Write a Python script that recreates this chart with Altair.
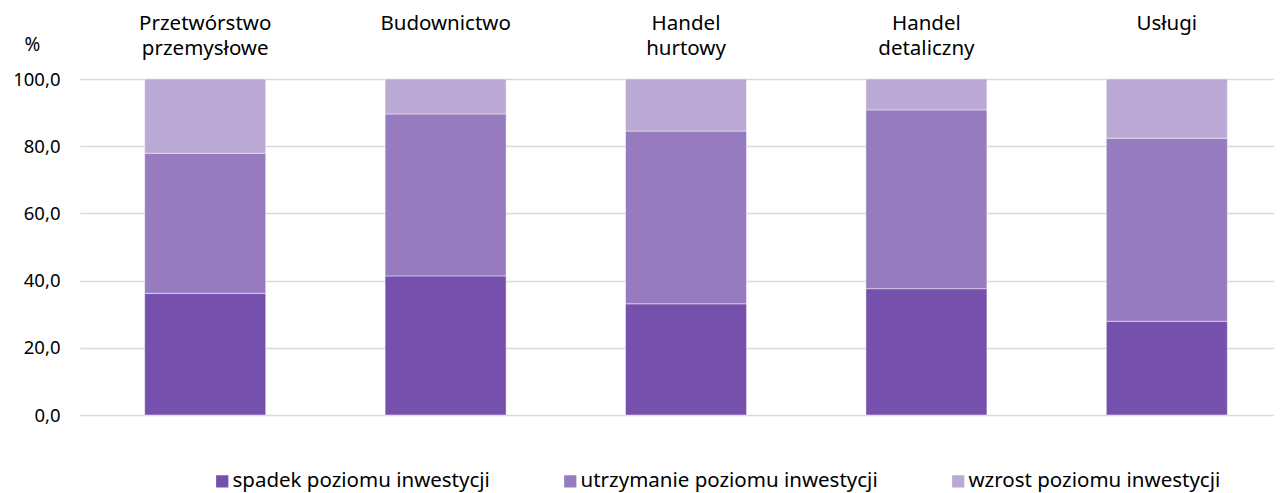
import altair as alt
import pandas as pd

categories = ["Przetwórstwo przemysłowe", "Budownictwo", "Handel hurtowy", "Handel detaliczny", "Usługi"]
cat_labels = ["Przetwórstwo\nprzemysłowe", "Budownictwo", "Handel\nhurtowy", "Handel\ndetaliczny", "Usługi"]
series = ["spadek poziomu inwestycji", "utrzymanie poziomu inwestycji", "wzrost poziomu inwestycji"]
spadek = [36.2, 41.4, 33.1, 37.6, 27.9]
utrzymanie = [41.7, 48.2, 51.4, 53.2, 54.5]
wzrost = [22.1, 10.4, 15.5, 9.2, 17.6]
colors = ["#7550AC", "#967CBE", "#BAA8D5"]
y_ticks = [0, 20, 40, 60, 80, 100]

FONT = "Noto Sans"

rows = []
for vals, s, o in zip([spadek, utrzymanie, wzrost], series, range(3)):
    for i, (c, v) in enumerate(zip(categories, vals)):
        rows.append({"idx": i, "kat": c, "seria": s, "wartosc": v, "ord": o})
df = pd.DataFrame(rows)
lab_df = pd.DataFrame({"idx": list(range(len(categories))), "label": cat_labels})

# category positions on a linear scale; the view is cropped on the right like the original
xscale = alt.Scale(domain=[-0.5, 4.425], nice=False, zero=False)

bars = alt.Chart(df).mark_bar(width=121, stroke="white", strokeWidth=1, strokeOpacity=0.45).encode(
    x=alt.X("idx:Q", scale=xscale, axis=None),
    y=alt.Y("wartosc:Q", stack="zero",
            scale=alt.Scale(domain=[0, 100], nice=False),
            axis=alt.Axis(values=y_ticks, grid=True, gridColor="#D9D9D9", gridWidth=1.5,
                          domain=False, ticks=False, labelPadding=20,
                          labelExpr="replace(format(datum.value, '.1f'), '.', ',')",
                          labelFontSize=18.5, labelFont=FONT, labelColor="#000000",
                          title="%", titleAngle=0, titleX=-48, titleY=-29,
                          titleAlign="center", titleBaseline="alphabetic",
                          titleFontSize=19, titleFont=FONT, titleFontWeight="normal",
                          titleColor="#000000")),
    color=alt.Color("seria:N", scale=alt.Scale(domain=series, range=colors),
                    legend=alt.Legend(orient="none", direction="horizontal", title=None,
                                      legendX=132, legendY=392, padding=0,
                                      symbolType="square", symbolSize=150,
                                      symbolStrokeWidth=0, labelOffset=0,
                                      columnPadding=70, labelFontSize=20.5, labelFont=FONT,
                                      labelColor="#000000", labelLimit=0)),
    order=alt.Order("ord:Q", sort="ascending"),
    tooltip=["kat:N", "seria:N", "wartosc:Q"],
)

labels = alt.Chart(lab_df).mark_text(
    baseline="alphabetic", align="center", lineBreak="\n", lineHeight=25,
    fontSize=20.5, font=FONT, color="#000000"
).encode(
    x=alt.X("idx:Q", scale=xscale, axis=None),
    y=alt.value(-49),
    text="label:N",
)

chart = alt.layer(bars, labels).properties(
    width=1194, height=336,
    autosize=alt.AutoSizeParams(type="none"),
    padding={"left": 72, "top": 71, "right": 0, "bottom": 78},
).configure_view(stroke=None)

chart.save("out.html", embed_options={"renderer": "svg", "actions": False})
